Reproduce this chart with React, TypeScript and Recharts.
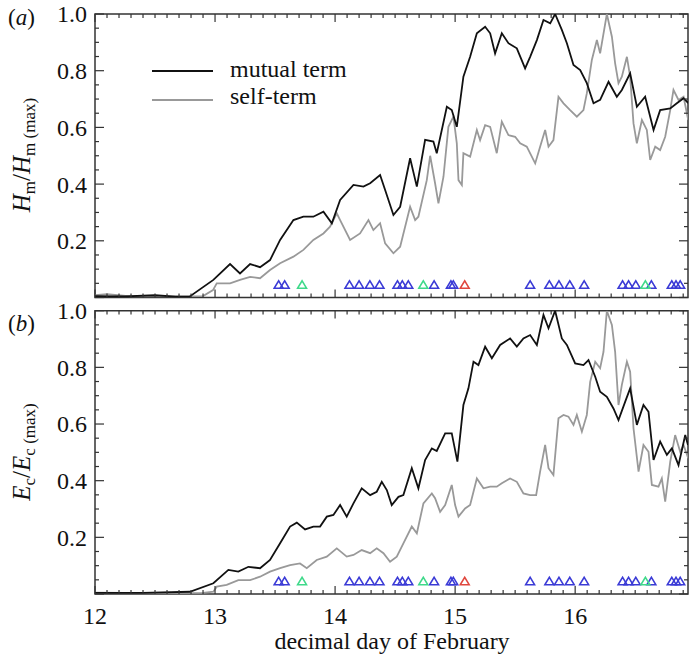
import { ComposedChart, Line, Scatter, XAxis, YAxis, ReferenceArea } from "recharts";

// helicity (a) and energy (b) ratios, normalised to their maxima
const mutualADays = [12.0, 12.25, 12.5, 12.67, 12.79, 12.986, 13.125, 13.208, 13.292, 13.375, 13.458, 13.542, 13.653, 13.736, 13.819, 13.903, 13.973, 14.042, 14.153, 14.236, 14.292, 14.375, 14.417, 14.486, 14.542, 14.625, 14.681, 14.75, 14.819, 14.847, 14.931, 14.972, 15.014, 15.069, 15.125, 15.181, 15.25, 15.292, 15.333, 15.389, 15.444, 15.514, 15.583, 15.625, 15.681, 15.736, 15.792, 15.833, 15.889, 15.931, 15.986, 16.042, 16.097, 16.153, 16.208, 16.278, 16.347, 16.389, 16.458, 16.514, 16.583, 16.653, 16.708, 16.792, 16.847, 16.903, 16.942];
const mutualAValues = [0.005, 0.004, 0.008, 0.003, 0.004, 0.062, 0.118, 0.085, 0.118, 0.107, 0.132, 0.203, 0.273, 0.285, 0.285, 0.303, 0.262, 0.344, 0.397, 0.391, 0.403, 0.432, 0.379, 0.291, 0.32, 0.491, 0.391, 0.556, 0.55, 0.509, 0.673, 0.661, 0.602, 0.779, 0.849, 0.932, 0.955, 0.932, 0.861, 0.932, 0.897, 0.879, 0.808, 0.849, 0.908, 0.979, 0.967, 1.0, 0.944, 0.897, 0.82, 0.802, 0.756, 0.685, 0.697, 0.761, 0.708, 0.732, 0.791, 0.673, 0.708, 0.591, 0.661, 0.667, 0.685, 0.703, 0.686];

const selfADays = [12.0, 12.1, 12.3, 12.6, 12.9, 12.983, 13.014, 13.125, 13.208, 13.292, 13.375, 13.458, 13.542, 13.653, 13.736, 13.819, 13.903, 13.958, 14.014, 14.042, 14.125, 14.208, 14.278, 14.319, 14.375, 14.417, 14.486, 14.542, 14.625, 14.667, 14.694, 14.764, 14.792, 14.833, 14.861, 14.903, 14.944, 14.986, 15.014, 15.028, 15.056, 15.069, 15.125, 15.181, 15.208, 15.25, 15.292, 15.347, 15.389, 15.444, 15.5, 15.542, 15.597, 15.667, 15.708, 15.75, 15.778, 15.819, 15.861, 15.903, 15.958, 16.014, 16.069, 16.097, 16.139, 16.181, 16.208, 16.264, 16.306, 16.333, 16.361, 16.389, 16.431, 16.458, 16.486, 16.514, 16.556, 16.597, 16.625, 16.667, 16.708, 16.75, 16.792, 16.819, 16.861, 16.903, 16.942];
const selfAValues = [0.008, 0.012, 0.004, 0.004, 0.005, 0.026, 0.05, 0.05, 0.062, 0.073, 0.068, 0.097, 0.121, 0.144, 0.168, 0.203, 0.226, 0.25, 0.297, 0.273, 0.203, 0.226, 0.273, 0.238, 0.262, 0.191, 0.156, 0.179, 0.32, 0.273, 0.285, 0.414, 0.5, 0.403, 0.332, 0.426, 0.602, 0.638, 0.544, 0.414, 0.397, 0.509, 0.497, 0.591, 0.555, 0.608, 0.602, 0.509, 0.62, 0.573, 0.567, 0.544, 0.532, 0.473, 0.532, 0.591, 0.532, 0.555, 0.708, 0.685, 0.661, 0.638, 0.661, 0.72, 0.838, 0.908, 0.861, 1.0, 0.92, 0.826, 0.756, 0.779, 0.849, 0.779, 0.614, 0.544, 0.626, 0.591, 0.485, 0.532, 0.52, 0.567, 0.661, 0.732, 0.697, 0.708, 0.626];

const mutualBDays = [12.0, 12.4, 12.79, 12.986, 13.111, 13.194, 13.278, 13.375, 13.458, 13.542, 13.625, 13.681, 13.75, 13.819, 13.875, 13.931, 13.986, 14.042, 14.097, 14.153, 14.222, 14.292, 14.347, 14.389, 14.431, 14.472, 14.528, 14.569, 14.639, 14.694, 14.75, 14.806, 14.847, 14.917, 14.972, 15.019, 15.069, 15.111, 15.153, 15.194, 15.25, 15.306, 15.375, 15.458, 15.514, 15.569, 15.625, 15.681, 15.736, 15.778, 15.833, 15.889, 15.931, 16.0, 16.069, 16.111, 16.167, 16.208, 16.264, 16.319, 16.361, 16.417, 16.458, 16.514, 16.569, 16.611, 16.653, 16.708, 16.764, 16.806, 16.861, 16.917, 16.94];
const mutualBValues = [0.004, 0.004, 0.008, 0.038, 0.085, 0.079, 0.096, 0.091, 0.12, 0.179, 0.238, 0.252, 0.228, 0.238, 0.238, 0.273, 0.279, 0.314, 0.273, 0.32, 0.373, 0.349, 0.361, 0.396, 0.367, 0.314, 0.343, 0.349, 0.444, 0.373, 0.473, 0.514, 0.505, 0.567, 0.567, 0.467, 0.667, 0.726, 0.82, 0.808, 0.873, 0.832, 0.879, 0.902, 0.873, 0.902, 0.914, 0.879, 0.985, 0.938, 1.0, 0.902, 0.879, 0.814, 0.808, 0.826, 0.767, 0.714, 0.696, 0.655, 0.614, 0.679, 0.726, 0.597, 0.667, 0.643, 0.473, 0.538, 0.491, 0.514, 0.455, 0.561, 0.526];

const selfBDays = [12.0, 12.5, 12.9, 12.986, 13.014, 13.097, 13.194, 13.292, 13.375, 13.458, 13.542, 13.625, 13.708, 13.764, 13.847, 13.931, 14.014, 14.097, 14.153, 14.222, 14.292, 14.347, 14.403, 14.458, 14.514, 14.569, 14.639, 14.681, 14.736, 14.806, 14.833, 14.875, 14.917, 14.972, 15.0, 15.028, 15.083, 15.125, 15.181, 15.236, 15.292, 15.347, 15.389, 15.458, 15.514, 15.569, 15.625, 15.675, 15.708, 15.75, 15.778, 15.819, 15.861, 15.903, 15.944, 15.986, 16.014, 16.056, 16.097, 16.125, 16.167, 16.208, 16.236, 16.264, 16.306, 16.333, 16.361, 16.389, 16.431, 16.458, 16.486, 16.528, 16.569, 16.611, 16.639, 16.694, 16.722, 16.75, 16.792, 16.833, 16.875, 16.903, 16.942];
const selfBValues = [0.005, 0.003, 0.004, 0.008, 0.026, 0.032, 0.049, 0.049, 0.061, 0.079, 0.091, 0.102, 0.108, 0.091, 0.12, 0.132, 0.161, 0.132, 0.138, 0.155, 0.144, 0.161, 0.144, 0.114, 0.132, 0.179, 0.238, 0.214, 0.32, 0.355, 0.338, 0.29, 0.314, 0.385, 0.314, 0.273, 0.302, 0.314, 0.408, 0.373, 0.379, 0.379, 0.391, 0.408, 0.396, 0.355, 0.349, 0.349, 0.432, 0.526, 0.444, 0.42, 0.62, 0.632, 0.626, 0.597, 0.632, 0.573, 0.632, 0.749, 0.82, 0.797, 0.855, 1.0, 0.95, 0.855, 0.667, 0.738, 0.82, 0.785, 0.585, 0.432, 0.526, 0.502, 0.385, 0.379, 0.408, 0.326, 0.467, 0.561, 0.502, 0.526, 0.479];

// event markers along the bottom of each panel
const blueEvents = [13.53, 13.58, 14.12, 14.2, 14.29, 14.37, 14.52, 14.56, 14.61, 14.825, 14.965, 14.985, 15.625, 15.785, 15.865, 15.955, 16.075, 16.395, 16.445, 16.505, 16.635, 16.805, 16.84, 16.875];
const greenEvents = [13.725, 14.735, 16.585];
const redEvents = [15.08];
const eventLevel = 0.045;

const dayLabels = ["12", "13", "14", "15", "16"];
const valueLabels = ["0.2", "0.4", "0.6", "0.8", "1.0"];

const DAY_MIN = 12;
const DAY_MAX = 16.94;
const FONT = "'Liberation Serif', 'Times New Roman', serif";
const PLOT_W = 593;
const PLOT_H = 283.5;

const pair = (days: number[], values: number[]) => days.map((day, i) => ({ day, v: values[i] }));
const events = (days: number[]) => days.map((day) => ({ day, v: eventLevel }));

const xTicks = Array.from({ length: 50 }, (_, i) => Math.round((DAY_MIN + i / 10) * 10) / 10);
const yTicks = Array.from({ length: 21 }, (_, i) => i / 20);

function makeXTick(showLabel: boolean) {
  return (props: any) => {
    const { x, y, payload } = props;
    const major = Number.isInteger(payload.value);
    const len = major ? 8 : 4;
    const label = dayLabels.find((l) => Number(l) === payload.value);
    return (
      <g>
        <line x1={x} x2={x} y1={y} y2={y - len} stroke="#333" strokeWidth={1.2} />
        <line x1={x} x2={x} y1={y - PLOT_H} y2={y - PLOT_H + len} stroke="#333" strokeWidth={1.2} />
        {showLabel && label && (
          <text x={x} y={y + 30} textAnchor="middle" fontSize={24} fontFamily={FONT} fill="#111">
            {label}
          </text>
        )}
      </g>
    );
  };
}

function YTick(props: any) {
  const { x, y, payload } = props;
  const idx = Math.round(payload.value * 20);
  const major = idx % 4 === 0;
  const len = major ? 9 : 4;
  const label = major && idx > 0 ? valueLabels[idx / 4 - 1] : null;
  return (
    <g>
      <line x1={x} x2={x + len} y1={y} y2={y} stroke="#333" strokeWidth={1.2} />
      <line x1={x + PLOT_W} x2={x + PLOT_W - len} y1={y} y2={y} stroke="#333" strokeWidth={1.2} />
      {label && (
        <text x={x - 8} y={y} dy="0.35em" textAnchor="end" fontSize={24} fontFamily={FONT} fill="#111">
          {label}
        </text>
      )}
    </g>
  );
}

function Triangle(color: string) {
  return (props: any) => {
    const { cx, cy } = props;
    return (
      <path
        d={`M${cx - 4.5},${cy + 3.5} L${cx},${cy - 4} L${cx + 4.5},${cy + 3.5} Z`}
        fill="none"
        stroke={color}
        strokeWidth={1.5}
      />
    );
  };
}

function Panel({ mutual, self, height, top, xAxisHeight, showDayLabels }: any) {
  return (
    <ComposedChart width={689} height={height} margin={{ top, right: 1, bottom: 0, left: 0 }}>
      <XAxis
        type="number"
        dataKey="day"
        domain={[DAY_MIN, DAY_MAX]}
        ticks={xTicks}
        interval={0}
        height={xAxisHeight}
        tickSize={0}
        tickMargin={0}
        axisLine={false}
        tickLine={false}
        tick={makeXTick(showDayLabels)}
        allowDataOverflow
      />
      <YAxis
        type="number"
        dataKey="v"
        domain={[0, 1]}
        ticks={yTicks}
        interval={0}
        width={95}
        tickSize={0}
        tickMargin={0}
        axisLine={false}
        tickLine={false}
        tick={YTick}
        allowDataOverflow
      />
      <Line data={self} dataKey="v" type="linear" stroke="#999" strokeWidth={1.8} dot={false} isAnimationActive={false} />
      <Line data={mutual} dataKey="v" type="linear" stroke="#111" strokeWidth={1.8} dot={false} isAnimationActive={false} />
      <Scatter data={events(blueEvents)} shape={Triangle("#3b3bd6")} isAnimationActive={false} />
      <Scatter data={events(greenEvents)} shape={Triangle("#3fd98a")} isAnimationActive={false} />
      <Scatter data={events(redEvents)} shape={Triangle("#e0473e")} isAnimationActive={false} />
      <ReferenceArea x1={DAY_MIN} x2={DAY_MAX} y1={0} y2={1} fill="none" stroke="#333" strokeWidth={1.5} ifOverflow="visible" />
    </ComposedChart>
  );
}

function AxisTitle({ cy, sym, sub }: { cy: number; sym: string; sub: string }) {
  return (
    <text
      transform={`translate(30 ${cy}) rotate(-90)`}
      textAnchor="middle"
      fontFamily={FONT}
      fontSize={25}
      fill="#111"
    >
      <tspan fontStyle="italic">{sym}</tspan>
      <tspan fontSize={17} dy={5}>{sub}</tspan>
      <tspan dy={-5}>/</tspan>
      <tspan fontStyle="italic">{sym}</tspan>
      <tspan fontSize={17} dy={5}>{sub + " (max)"}</tspan>
    </text>
  );
}

export default function App() {
  return (
    <div style={{ position: "absolute", left: 0, top: 0, width: 689, height: 658, background: "#fff" }}>
      <div style={{ position: "absolute", left: 0, top: 0 }}>
        <Panel mutual={pair(mutualADays, mutualAValues)} self={pair(selfADays, selfAValues)} height={298.5} top={14} xAxisHeight={1} showDayLabels={false} />
      </div>
      <div style={{ position: "absolute", left: 0, top: 296 }}>
        <Panel mutual={pair(mutualBDays, mutualBValues)} self={pair(selfBDays, selfBValues)} height={362} top={14.7} xAxisHeight={64} showDayLabels />
      </div>
      <svg width={689} height={658} style={{ position: "absolute", left: 0, top: 0, pointerEvents: "none" }}>
        <text x={8} y={25} fontFamily={FONT} fontSize={23} fill="#111">
          (<tspan fontStyle="italic">a</tspan>)
        </text>
        <text x={8} y={331} fontFamily={FONT} fontSize={23} fill="#111">
          (<tspan fontStyle="italic">b</tspan>)
        </text>
        <AxisTitle cy={155} sym="H" sub="m" />
        <AxisTitle cy={452} sym="E" sub="c" />
        <line x1={152} x2={213} y1={71} y2={71} stroke="#111" strokeWidth={1.8} />
        <line x1={152} x2={213} y1={100} y2={100} stroke="#999" strokeWidth={1.8} />
        <text x={230} y={77} fontFamily={FONT} fontSize={24} fill="#111">mutual term</text>
        <text x={230} y={104} fontFamily={FONT} fontSize={24} fill="#111">self-term</text>
        <text x={392} y={649} textAnchor="middle" fontFamily={FONT} fontSize={24} fill="#111">
          decimal day of February
        </text>
      </svg>
    </div>
  );
}
